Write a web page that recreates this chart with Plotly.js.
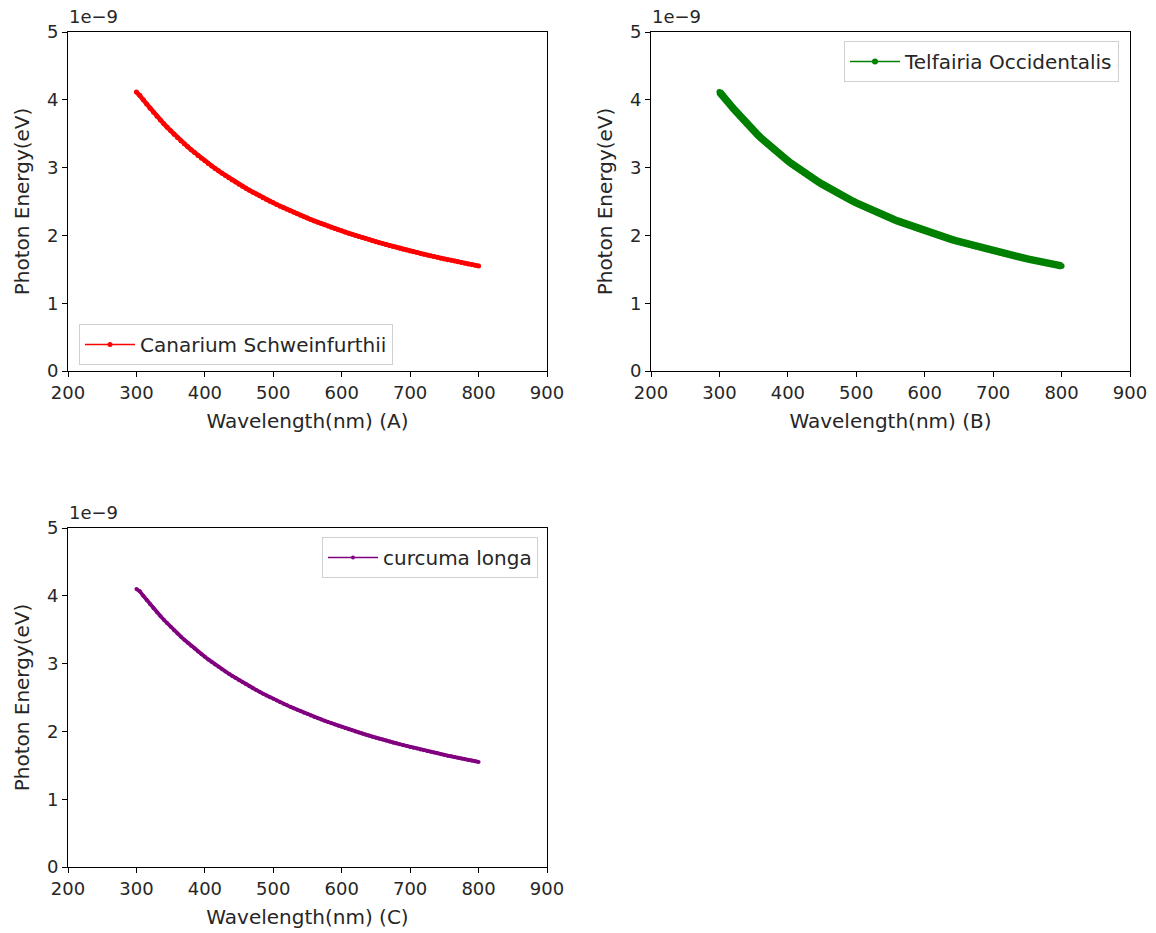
<!DOCTYPE html>
<html>
<head>
<meta charset="utf-8">
<script src="https://cdn.plot.ly/plotly-3.0.1.min.js"></script>
<style>html,body{margin:0;padding:0;background:#fff;}#chart{width:1156px;height:933px;}</style>
</head>
<body>
<div id="chart"></div>
<script>
// Wavelength (nm)
const wavelength = [300,305,310,315,320,325,330,335,340,345,350,355,360,365,370,375,380,385,390,395,
400,405,410,415,420,425,430,435,440,445,450,455,460,465,470,475,480,485,490,495,
500,505,510,515,520,525,530,535,540,545,550,555,560,565,570,575,580,585,590,595,
600,605,610,615,620,625,630,635,640,645,650,655,660,665,670,675,680,685,690,695,
700,705,710,715,720,725,730,735,740,745,750,755,760,765,770,775,780,785,790,795,800];

// Photon energy (units of 1e-9, as shown on the axis offset)
const energyA = [4.115,4.066,4.000,3.937,3.875,3.815,3.758,3.701,3.647,3.594,3.543,3.493,3.444,3.397,3.351,3.307,3.263,3.221,3.179,3.139,
3.100,3.062,3.024,2.988,2.952,2.918,2.884,2.851,2.818,2.787,2.756,2.725,2.696,2.667,2.638,2.611,2.583,2.557,2.531,2.505,
2.480,2.455,2.431,2.408,2.385,2.362,2.340,2.318,2.296,2.275,2.255,2.234,2.214,2.195,2.175,2.157,2.138,2.120,2.102,2.084,
2.067,2.050,2.033,2.016,2.000,1.984,1.968,1.953,1.938,1.922,1.908,1.893,1.879,1.865,1.851,1.837,1.824,1.810,1.797,1.784,
1.771,1.759,1.746,1.734,1.722,1.710,1.699,1.687,1.676,1.664,1.653,1.642,1.632,1.621,1.610,1.600,1.590,1.580,1.570,1.560,1.550];
const energyB = [4.115,4.066,4.000,3.937,3.875,3.815,3.758,3.701,3.647,3.594,3.543,3.493,3.444,3.397,3.351,3.307,3.263,3.221,3.179,3.139,
3.100,3.062,3.024,2.988,2.952,2.918,2.884,2.851,2.818,2.787,2.756,2.725,2.696,2.667,2.638,2.611,2.583,2.557,2.531,2.505,
2.480,2.455,2.431,2.408,2.385,2.362,2.340,2.318,2.296,2.275,2.255,2.234,2.214,2.195,2.175,2.157,2.138,2.120,2.102,2.084,
2.067,2.050,2.033,2.016,2.000,1.984,1.968,1.953,1.938,1.922,1.908,1.893,1.879,1.865,1.851,1.837,1.824,1.810,1.797,1.784,
1.771,1.759,1.746,1.734,1.722,1.710,1.699,1.687,1.676,1.664,1.653,1.642,1.632,1.621,1.610,1.600,1.590,1.580,1.570,1.560,1.550];
const energyC = [4.100,4.066,4.000,3.937,3.875,3.815,3.758,3.701,3.647,3.594,3.543,3.493,3.444,3.397,3.351,3.307,3.263,3.221,3.179,3.139,
3.100,3.062,3.024,2.988,2.952,2.918,2.884,2.851,2.818,2.787,2.756,2.725,2.696,2.667,2.638,2.611,2.583,2.557,2.531,2.505,
2.480,2.455,2.431,2.408,2.385,2.362,2.340,2.318,2.296,2.275,2.255,2.234,2.214,2.195,2.175,2.157,2.138,2.120,2.102,2.084,
2.067,2.050,2.033,2.016,2.000,1.984,1.968,1.953,1.938,1.922,1.908,1.893,1.879,1.865,1.851,1.837,1.824,1.810,1.797,1.784,
1.771,1.759,1.746,1.734,1.722,1.710,1.699,1.687,1.676,1.664,1.653,1.642,1.632,1.621,1.610,1.600,1.590,1.580,1.570,1.560,1.550];

const seriesNames = ["Canarium Schweinfurthii", "Telfairia Occidentalis", "curcuma longa"];
const xTitles = ["Wavelength(nm) (A)", "Wavelength(nm) (B)", "Wavelength(nm) (C)"];
const yTitle = "Photon Energy(eV)";
const xTicks = [200,300,400,500,600,700,800,900];
const yTicks = [0,1,2,3,4,5];
const offsetText = "1e\u22129";

const FONT = "DejaVu Sans, sans-serif";
const TXT = "#262626";
const colors = ["#ff0000", "#008000", "#800080"];
const energies = [energyA, energyB, energyC];
const axIds = [["x","y"],["x2","y2"],["x3","y3"]];
const legIds = ["legend","legend2","legend3"];
const bodyWidth = [4.5, 7.5, 3.8];
const markSize = [5, 6, 4];

const traces = [];
for (let i = 0; i < 3; i++) {
  // thick body of the dense marker curve
  traces.push({x: wavelength, y: energies[i], xaxis: axIds[i][0], yaxis: axIds[i][1],
    mode: "lines", line: {color: colors[i], width: bodyWidth[i]}, showlegend: false, hoverinfo: "skip"});
  // marker line (legend entry)
  traces.push({x: wavelength, y: energies[i], name: seriesNames[i], xaxis: axIds[i][0], yaxis: axIds[i][1],
    legend: legIds[i], mode: "lines+markers", line: {color: colors[i], width: 1.3},
    marker: {color: colors[i], size: markSize[i]}});
}

function xax(domain, anchor, title) {
  return {domain: domain, anchor: anchor, range: [200, 900], tickvals: xTicks,
    showgrid: false, zeroline: false, showline: true, mirror: true, linecolor: "#000", linewidth: 1,
    ticks: "outside", ticklen: 5, tickcolor: "#000", tickwidth: 1,
    tickfont: {family: FONT, size: 18, color: TXT}, automargin: false,
    title: {text: title, font: {family: FONT, size: 20, color: TXT}, standoff: 12}};
}
function yax(domain, anchor) {
  return {domain: domain, anchor: anchor, range: [0, 5], tickvals: yTicks,
    showgrid: false, zeroline: false, showline: true, mirror: true, linecolor: "#000", linewidth: 1,
    ticks: "outside", ticklen: 5, tickcolor: "#000", tickwidth: 1,
    tickfont: {family: FONT, size: 18, color: TXT}, automargin: false,
    title: {text: yTitle, font: {family: FONT, size: 20, color: TXT}, standoff: 11}};
}
const W = 1156, H = 933;
const dxL = [68/W, 547/W], dxR = [651/W, 1130/W];
const dyT = [1-371/H, 1-32/H], dyB = [1-867/H, 1-528/H];

function leg(x, y, xanchor) {
  return {x: x, y: y, xanchor: xanchor, yanchor: "top", bgcolor: "rgba(255,255,255,0.8)",
    bordercolor: "#d0d0d0", borderwidth: 1, font: {family: FONT, size: 20, color: TXT},
    itemwidth: 50, tracegroupgap: 0};
}

const layout = {
  width: W, height: H, margin: {l: 0, r: 0, t: 0, b: 0},
  paper_bgcolor: "#fff", plot_bgcolor: "#fff", showlegend: true,
  xaxis: xax(dxL, "y", xTitles[0]), yaxis: yax(dyT, "x"),
  xaxis2: xax(dxR, "y2", xTitles[1]), yaxis2: yax(dyT, "x2"),
  xaxis3: xax(dxL, "y3", xTitles[2]), yaxis3: yax(dyB, "x3"),
  legend: leg(79/W, 1-324/H, "left"),
  legend2: leg(1119/W, 1-41/H, "right"),
  legend3: leg(538/W, 1-537/H, "right"),
  annotations: [
    {text: offsetText, xref: "paper", yref: "paper", x: 67/W, y: 1-29/H, xanchor: "left", yanchor: "bottom", showarrow: false, font: {family: FONT, size: 18, color: TXT}},
    {text: offsetText, xref: "paper", yref: "paper", x: 650/W, y: 1-29/H, xanchor: "left", yanchor: "bottom", showarrow: false, font: {family: FONT, size: 18, color: TXT}},
    {text: offsetText, xref: "paper", yref: "paper", x: 67/W, y: 1-525/H, xanchor: "left", yanchor: "bottom", showarrow: false, font: {family: FONT, size: 18, color: TXT}}
  ]
};

Plotly.newPlot("chart", traces, layout, {displayModeBar: false, staticPlot: true});
</script>
</body>
</html>
